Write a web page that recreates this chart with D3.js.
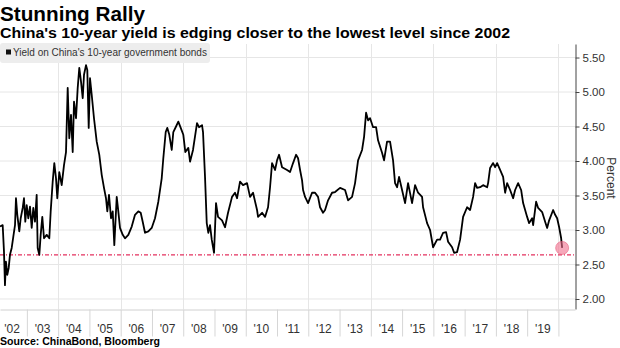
<!DOCTYPE html>
<html><head><meta charset="utf-8">
<script src="https://cdn.jsdelivr.net/npm/d3@7"></script>
<style>body{margin:0;background:#fff}svg{display:block}</style>
</head><body>
<svg id="c" width="620" height="348"></svg>
<script>
// decimal years of sampled observations
const dates = [
2002.140,2002.226,2002.267,2002.299,2002.331,2002.373,2002.418,2002.459,2002.514,2002.565,
2002.620,2002.651,2002.693,2002.757,2002.802,2002.866,2002.907,2002.949,2002.994,2003.045,
2003.099,2003.154,2003.205,2003.259,2003.313,2003.345,2003.397,2003.441,2003.493,2003.547,
2003.633,2003.717,2003.761,2003.825,2003.877,2003.931,2003.972,2004.036,2004.113,2004.187,
2004.251,2004.305,2004.356,2004.411,2004.465,2004.507,2004.571,2004.625,2004.676,2004.731,
2004.785,2004.827,2004.891,2004.932,2004.977,2005.019,2005.073,2005.146,2005.233,2005.316,
2005.393,2005.466,2005.530,2005.572,2005.626,2005.690,2005.745,2005.796,2005.873,2005.924,
2005.978,2006.065,2006.138,2006.244,2006.353,2006.458,2006.564,2006.640,2006.704,2006.778,
2006.884,2006.992,2007.098,2007.203,2007.312,2007.363,2007.440,2007.491,2007.555,2007.632,
2007.683,2007.770,2007.843,2007.920,2008.003,2008.067,2008.163,2008.218,2008.313,2008.441,
2008.505,2008.601,2008.633,2008.697,2008.752,2008.803,2008.857,2008.912,2008.985,2009.049,
2009.113,2009.241,2009.337,2009.433,2009.561,2009.657,2009.721,2009.817,2009.913,2010.041,
2010.137,2010.233,2010.361,2010.393,2010.521,2010.617,2010.713,2010.777,2010.841,2010.937,
2011.001,2011.065,2011.161,2011.321,2011.417,2011.513,2011.609,2011.673,2011.737,2011.801,
2011.833,2011.897,2011.993,2012.120,2012.216,2012.312,2012.376,2012.472,2012.536,2012.632,
2012.760,2012.856,2013.016,2013.176,2013.272,2013.400,2013.496,2013.592,2013.720,2013.784,
2013.848,2013.912,2013.976,2014.072,2014.168,2014.231,2014.359,2014.423,2014.519,2014.615,
2014.711,2014.775,2014.839,2014.903,2014.999,2015.095,2015.191,2015.319,2015.415,2015.511,
2015.639,2015.671,2015.799,2015.895,2015.991,2016.119,2016.215,2016.311,2016.407,2016.471,
2016.599,2016.663,2016.759,2016.855,2016.951,2017.079,2017.175,2017.271,2017.335,2017.399,
2017.495,2017.591,2017.719,2017.751,2017.815,2017.911,2017.975,2018.039,2018.135,2018.231,
2018.295,2018.359,2018.455,2018.551,2018.615,2018.711,2018.807,2018.871,2018.999,2019.063,
2019.159,2019.191,2019.287,2019.351,2019.479,2019.575,2019.639,2019.703,2019.831,2019.895,
2019.959,2020.023,2020.087,2020.119];
// yield on China's 10-year government bonds, percent
const yields = [
3.05,3.07,2.69,2.20,2.54,2.35,2.45,2.64,2.74,2.90,
3.07,3.46,3.22,2.98,3.17,3.32,3.46,3.12,3.36,3.17,
3.34,3.03,3.32,3.12,3.51,2.74,2.64,2.93,3.19,2.88,
2.93,2.88,3.27,3.70,3.97,3.75,3.46,3.84,3.65,3.94,
4.13,5.06,4.33,4.67,4.13,4.86,4.62,5.06,5.35,5.15,
4.91,5.25,5.39,5.32,4.48,5.20,4.96,4.62,4.28,4.09,
3.80,3.61,3.46,3.27,3.51,3.17,3.27,2.78,3.48,3.27,
3.03,2.93,2.88,2.93,3.05,3.22,3.27,3.25,3.12,2.96,
2.98,3.03,3.17,3.41,3.75,4.04,4.42,4.48,4.38,4.16,
4.42,4.50,4.57,4.48,4.38,4.13,4.19,3.99,4.16,4.55,
4.49,4.52,4.42,3.77,3.10,2.96,3.07,2.86,2.67,3.39,
3.19,3.14,3.04,3.25,3.48,3.54,3.46,3.70,3.65,3.68,
3.48,3.54,3.29,3.19,3.25,3.19,3.33,3.62,3.97,3.87,
4.01,4.09,3.91,3.87,3.84,3.97,4.09,4.04,3.87,3.72,
3.58,3.48,3.39,3.54,3.54,3.48,3.33,3.25,3.29,3.43,
3.54,3.55,3.61,3.58,3.43,3.48,3.68,4.01,4.16,4.35,
4.70,4.59,4.62,4.49,4.49,4.30,4.12,4.01,4.28,4.28,
4.01,3.68,3.62,3.77,3.58,3.39,3.68,3.39,3.65,3.54,
3.48,3.33,3.10,3.00,2.75,2.86,2.86,2.96,2.97,2.83,
2.75,2.67,2.68,2.86,3.19,3.33,3.29,3.48,3.68,3.61,
3.62,3.65,3.62,3.68,3.90,3.97,3.91,3.97,3.87,3.77,
3.54,3.68,3.58,3.46,3.58,3.68,3.58,3.39,3.19,3.10,
3.17,3.07,3.41,3.32,3.26,3.12,3.03,3.14,3.29,3.22,
3.17,3.04,2.88,2.74];
const yearTicks = [2003,2004,2005,2006,2007,2008,2009,2010,2011,2012,2013,2014,2015,2016,2017,2018,2019,2020];
const labelYears = [2002,2003,2004,2005,2006,2007,2008,2009,2010,2011,2012,2013,2014,2015,2016,2017,2018,2019];
const yearLabels = ["'02","'03","'04","'05","'06","'07","'08","'09","'10","'11","'12","'13","'14","'15","'16","'17","'18","'19"];
const gridYears = [2004,2006,2008,2010,2012,2014,2016,2018,2020];
const yTickValues = [2.0,2.5,3.0,3.5,4.0,4.5,5.0,5.5];
const refLevel = 2.64;

const font = "'Liberation Sans', Arial, sans-serif";
const svg = d3.select("#c");
const L = 0, R = 575, T = 44, B = 309;
const x = d3.scaleLinear().domain([2002.14, 2020.53]).range([L, R]);
const y = d3.scaleLinear().domain([1.855, 5.696]).range([B, T]);

// gridlines
svg.append("g").selectAll("line").data(yTickValues).join("line")
  .attr("x1", L).attr("x2", R).attr("y1", d => y(d)).attr("y2", d => y(d))
  .attr("stroke", "#e6e6e6").attr("stroke-width", 1);
svg.append("g").selectAll("line").data(gridYears).join("line")
  .attr("x1", d => Math.round(x(d)) + 0.5).attr("x2", d => Math.round(x(d)) + 0.5)
  .attr("y1", T).attr("y2", B)
  .attr("stroke", "#e6e6e6").attr("stroke-width", 1);

// reference line
svg.append("line")
  .attr("x1", L).attr("x2", R).attr("y1", y(refLevel)).attr("y2", y(refLevel))
  .attr("stroke", "#e3305f").attr("stroke-width", 1.1)
  .attr("stroke-dasharray", "4,2,1,2");

// data line
const pts = dates.map((d, i) => [d, yields[i]]);
svg.append("path").datum(pts)
  .attr("fill", "none").attr("stroke", "#000").attr("stroke-width", 1.8)
  .attr("stroke-linejoin", "round")
  .attr("d", d3.line().x(d => x(d[0])).y(d => y(d[1])));

// end marker
const last = pts[pts.length - 1];
svg.append("circle").attr("cx", x(last[0])).attr("cy", y(last[1])).attr("r", 6.5)
  .attr("fill", "rgba(240,110,140,0.6)").attr("stroke", "rgba(230,90,120,0.7)").attr("stroke-width", 0.8);

// legend
svg.append("rect").attr("x", 0).attr("y", 43).attr("width", 210).attr("height", 20).attr("rx", 3)
  .attr("fill", "#ededed");
svg.append("rect").attr("x", 6).attr("y", 49.5).attr("width", 5).attr("height", 5).attr("fill", "#111");
svg.append("text").attr("x", 13).attr("y", 56).attr("font-family", font).attr("font-size", 10)
  .attr("fill", "#333").text("Yield on China's 10-year government bonds");

// right axis
const ya = svg.append("g").attr("transform", `translate(${R + 0.5},0)`)
  .call(d3.axisRight(y).tickValues(yTickValues).tickSize(4).tickSizeOuter(0).tickFormat(d3.format(".2f")));
ya.select(".domain").attr("stroke", "#444");
ya.selectAll(".tick line").attr("stroke", "#444");
ya.selectAll(".tick text").attr("font-family", font).attr("font-size", 11.5).attr("fill", "#333").attr("x", 7);

// bottom axis: year boundary ticks
const xa = svg.append("g").attr("transform", `translate(0,${B + 0.5})`)
  .call(d3.axisBottom(x).tickValues(yearTicks).tickSize(27).tickSizeOuter(0).tickFormat(""));
xa.select(".domain").attr("stroke", "#d0d0d0");
xa.selectAll(".tick line").attr("stroke", "#d6d6d6");

svg.append("g").selectAll("text").data(labelYears).join("text")
  .attr("x", (d, i) => Math.max(x(d + 0.5), 12)).attr("y", 333)
  .attr("text-anchor", "middle").attr("font-family", font).attr("font-size", 12).attr("fill", "#333")
  .text((d, i) => yearLabels[i]);

// Percent label
svg.append("text").attr("transform", "translate(607,178) rotate(90)")
  .attr("text-anchor", "middle").attr("font-family", font).attr("font-size", 12).attr("fill", "#333")
  .text("Percent");

// titles
svg.append("text").attr("x", 0).attr("y", 21).attr("font-family", font).attr("font-weight", "bold")
  .attr("font-size", 20.5).attr("fill", "#000").attr("textLength", 145).attr("lengthAdjust", "spacingAndGlyphs")
  .text("Stunning Rally");
svg.append("text").attr("x", 0).attr("y", 38).attr("font-family", font).attr("font-weight", "bold")
  .attr("font-size", 14.5).attr("fill", "#000").attr("textLength", 510).attr("lengthAdjust", "spacingAndGlyphs")
  .text("China's 10-year yield is edging closer to the lowest level since 2002");
svg.append("text").attr("x", 0).attr("y", 345).attr("font-family", font).attr("font-weight", "bold")
  .attr("font-size", 10.5).attr("fill", "#000").attr("textLength", 160).attr("lengthAdjust", "spacingAndGlyphs")
  .text("Source: ChinaBond, Bloomberg");
</script>
</body></html>
